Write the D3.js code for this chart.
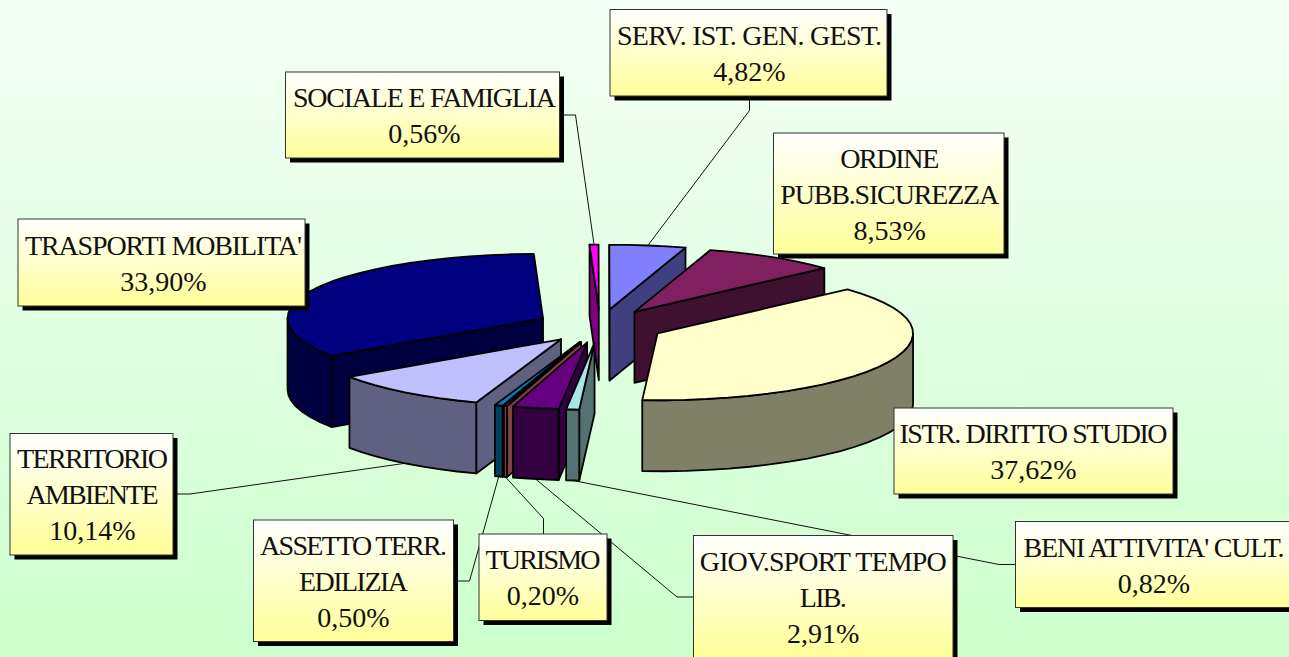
<!DOCTYPE html>
<html>
<head>
<meta charset="utf-8">
<title>Pie</title>
<script src="https://cdn.jsdelivr.net/npm/d3@7/dist/d3.min.js"></script>
<style>
	html, body { margin: 0; padding: 0; overflow: hidden; }
	svg { display: block; }
	text { font-family: "Liberation Serif", "Times New Roman", serif; fill: #111; }
</style>
</head>
<body>
<script>

// Values, clockwise from the first slice
var categories = ["ISTR. DIRITTO STUDIO", "BENI ATTIVITA' CULT.", "GIOV.SPORT TEMPO LIB.", "TURISMO",
				  "ASSETTO TERR. EDILIZIA", "TERRITORIO AMBIENTE", "TRASPORTI MOBILITA'",
				  "SOCIALE E FAMIGLIA", "SERV. IST. GEN. GEST.", "ORDINE PUBB.SICUREZZA"];
var percentages = [37.62, 0.82, 2.91, 0.20, 0.50, 10.14, 33.90, 0.56, 4.82, 8.53];
var labelLines = [["ISTR. DIRITTO STUDIO"], ["BENI ATTIVITA' CULT."], ["GIOV.SPORT TEMPO", "LIB."], ["TURISMO"],
				  ["ASSETTO TERR.", "EDILIZIA"], ["TERRITORIO", "AMBIENTE"], ["TRASPORTI MOBILITA'"],
				  ["SOCIALE E FAMIGLIA"], ["SERV. IST. GEN. GEST."], ["ORDINE", "PUBB.SICUREZZA"]];

// Slice colours, top face and side faces
var topColors = ["#ffffcc", "#a6e6e6", "#660080", "#ff8080", "#0080c0", "#c0c0ff", "#000080", "#ff00ff", "#8080ff", "#802060"];
var sideColors = ["#808066", "#537373", "#330040", "#804040", "#004060", "#606080", "#000040", "#800080", "#404080", "#401030"];

// Width of each label line, the names are set tight
var lineWidths = [[268], [261], [247, 47], [115], [187, 109], [151, 132], [277], [263], [265], [99, 219]];

// Label boxes: position, size, and bends of the leader line (null = no leader)
var boxes = [
	{x: 894, y: 408, w: 279, h: 86, dx: 0, leader: null},
	{x: 1015.5, y: 521.5, w: 277, h: 86, dx: 0, leader: [[1015, 564.5], [999, 564.5]]},
	{x: 693.5, y: 535.5, w: 259.5, h: 122, dx: 0, leader: [[693, 597], [677, 597]]},
	{x: 479, y: 534, w: 128, h: 86.5, dx: 0, leader: [[543.5, 534], [543.5, 518.5]]},
	{x: 253.5, y: 520, w: 200, h: 121.5, dx: 0, leader: [[458, 581], [469.5, 581]]},
	{x: 10, y: 433.5, w: 163, h: 121.5, dx: 1, leader: [[177, 494], [190, 494]]},
	{x: 18, y: 219, w: 287, h: 87, dx: 2, leader: null},
	{x: 285.5, y: 72, w: 274, h: 86, dx: 2, leader: [[564, 115], [575.5, 115]]},
	{x: 610, y: 9.5, w: 277, h: 86.5, dx: 1, leader: [[749.5, 100], [749.5, 110.5]]},
	{x: 773.5, y: 133, w: 230.5, h: 121, dx: 1, leader: null}
];

var width = 1289,
	height = 657;

// Pie geometry: flat ellipse, exploded slices, extruded downwards
var centerX = 600,
	centerY = 326,
	radiusX = 255.5,
	radiusY = 67,
	depth = 71,
	explode = 0.25,
	backFlatten = 0.035,
	startDeg = 48,
	stepDeg = 5,
	fontSize = 28,
	lineHeight = 36,
	shadow = 4.5;

var rad = function(deg) { return deg * Math.PI / 180; };

var xScale = d3.scaleLinear().domain([-1, 1]).range([centerX - radiusX, centerX + radiusX]);
var yScale = d3.scaleLinear().domain([-1, 1]).range([centerY - radiusY, centerY + radiusY]);

var pie = d3.pie()
	.sort(null)
	.value(function(d) { return d; })
	.startAngle(rad(startDeg))
	.endAngle(rad(startDeg + 360));

var line = d3.line();

var slices = pie(percentages).map(function(d) {
	var mid = (d.startAngle + d.endAngle) / 2;
	d.offX = explode * Math.sin(mid);
	d.offY = -explode * Math.cos(mid);
	d.mid = mid;
	return d;
});

// Screen position of a point of a slice, r = 0 is the tip, r = 1 the rim
function project(d, angle, r, drop) {
	var c = Math.cos(angle);
	// the back of the pie is a little flatter than the front
	var squeeze = c > 0 ? 1 - backFlatten * c : 1;
	return [xScale(d.offX + r * Math.sin(angle)),
			yScale(d.offY - r * c * squeeze) + (drop || 0)];
}

// Rim points between two angles
function rim(d, a0, a1, drop) {
	var pts = [],
		n = Math.max(1, Math.ceil((a1 - a0) / rad(stepDeg)));
	for (var i = 0; i <= n; i++){
		pts.push(project(d, a0 + (a1 - a0) * i / n, 1, drop));
	}
	return pts;
}

function radialFace(d, angle) {
	return [project(d, angle, 0), project(d, angle, 1), project(d, angle, 1, depth), project(d, angle, 0, depth)];
}

var svg = d3.select("body")
	.append("svg")
	.attr("width", width)
	.attr("height", height);

var defs = svg.append("defs");

var bgGrad = defs.append("linearGradient")
	.attr("id", "bg")
	.attr("x1", 0).attr("y1", 0).attr("x2", 0).attr("y2", 1);
bgGrad.append("stop").attr("offset", "0%").attr("stop-color", "#f4fff6");
bgGrad.append("stop").attr("offset", "100%").attr("stop-color", "#ccffcc");

var boxGrad = defs.append("linearGradient")
	.attr("id", "boxFill")
	.attr("x1", 0).attr("y1", 0).attr("x2", 0).attr("y2", 1);
boxGrad.append("stop").attr("offset", "0%").attr("stop-color", "#ffffff");
boxGrad.append("stop").attr("offset", "100%").attr("stop-color", "#ffff99");

svg.append("rect")
	.attr("width", width)
	.attr("height", height)
	.attr("fill", "url(#bg)");

// Leader lines go behind everything
svg.append("g")
	.selectAll("path")
	.data(slices.filter(function(d, i) { return boxes[i].leader; }))
	.enter()
	.append("path")
	.attr("fill", "none")
	.attr("stroke", "#111")
	.attr("stroke-width", 1)
	.attr("d", function(d) {
		// front slices are reached at the foot of their side
		var drop = Math.cos(d.mid) < 0 ? depth : 0;
		return line(boxes[d.index].leader.concat([project(d, d.mid, 1, drop)]));
	});

// Back slices first
var order = slices.slice().sort(function(a, b) {
	return d3.ascending(project(a, 0, 0)[1], project(b, 0, 0)[1]);
});

var sliceGroups = svg.append("g")
	.attr("stroke", "#000")
	.attr("stroke-width", 1.8)
	.attr("stroke-linejoin", "round")
	.selectAll("g")
	.data(order)
	.enter()
	.append("g");

sliceGroups.each(function(d) {
	var g = d3.select(this),
		side = sideColors[d.index];

	// faces that look at the viewer
	if (Math.sin(d.startAngle) < 0){
		g.append("path").attr("fill", side).attr("d", line(radialFace(d, d.startAngle)) + "Z");
	}
	if (Math.sin(d.endAngle) > 0){
		g.append("path").attr("fill", side).attr("d", line(radialFace(d, d.endAngle)) + "Z");
	}

	var a0 = Math.max(d.startAngle, rad(90)),
		a1 = Math.min(d.endAngle, rad(270));
	if (a0 < a1){
		var outer = rim(d, a0, a1).concat(rim(d, a0, a1, depth).reverse());
		g.append("path").attr("fill", side).attr("d", line(outer) + "Z");
	}

	var top = [project(d, 0, 0)].concat(rim(d, d.startAngle, d.endAngle));
	g.append("path").attr("fill", topColors[d.index]).attr("d", line(top) + "Z");
});

// Label boxes
var labels = svg.append("g")
	.selectAll("g")
	.data(slices)
	.enter()
	.append("g");

labels.append("rect")
	.attr("x", function(d) { return boxes[d.index].x + shadow; })
	.attr("y", function(d) { return boxes[d.index].y + shadow; })
	.attr("width", function(d) { return boxes[d.index].w; })
	.attr("height", function(d) { return boxes[d.index].h; })
	.attr("fill", "#000");

labels.append("rect")
	.attr("x", function(d) { return boxes[d.index].x; })
	.attr("y", function(d) { return boxes[d.index].y; })
	.attr("width", function(d) { return boxes[d.index].w; })
	.attr("height", function(d) { return boxes[d.index].h; })
	.attr("fill", "url(#boxFill)")
	.attr("stroke", "#333")
	.attr("stroke-width", 1);

labels.each(function(d) {
	var b = boxes[d.index],
		rows = labelLines[d.index].concat([percentages[d.index].toFixed(2).replace(".", ",") + "%"]),
		first = b.y + b.h / 2 + 10 - (rows.length - 1) * lineHeight / 2;

	d3.select(this).selectAll("text")
		.data(rows)
		.enter()
		.append("text")
		.attr("x", b.x + b.w / 2 + b.dx)
		.attr("y", function(r, i) { return first + i * lineHeight; })
		.attr("text-anchor", "middle")
		.attr("font-size", fontSize)
		.attr("lengthAdjust", "spacing")
		.attr("textLength", function(r, i) { return lineWidths[d.index][i]; })
		.text(function(r) { return r; });
});

</script>
</body>
</html>
